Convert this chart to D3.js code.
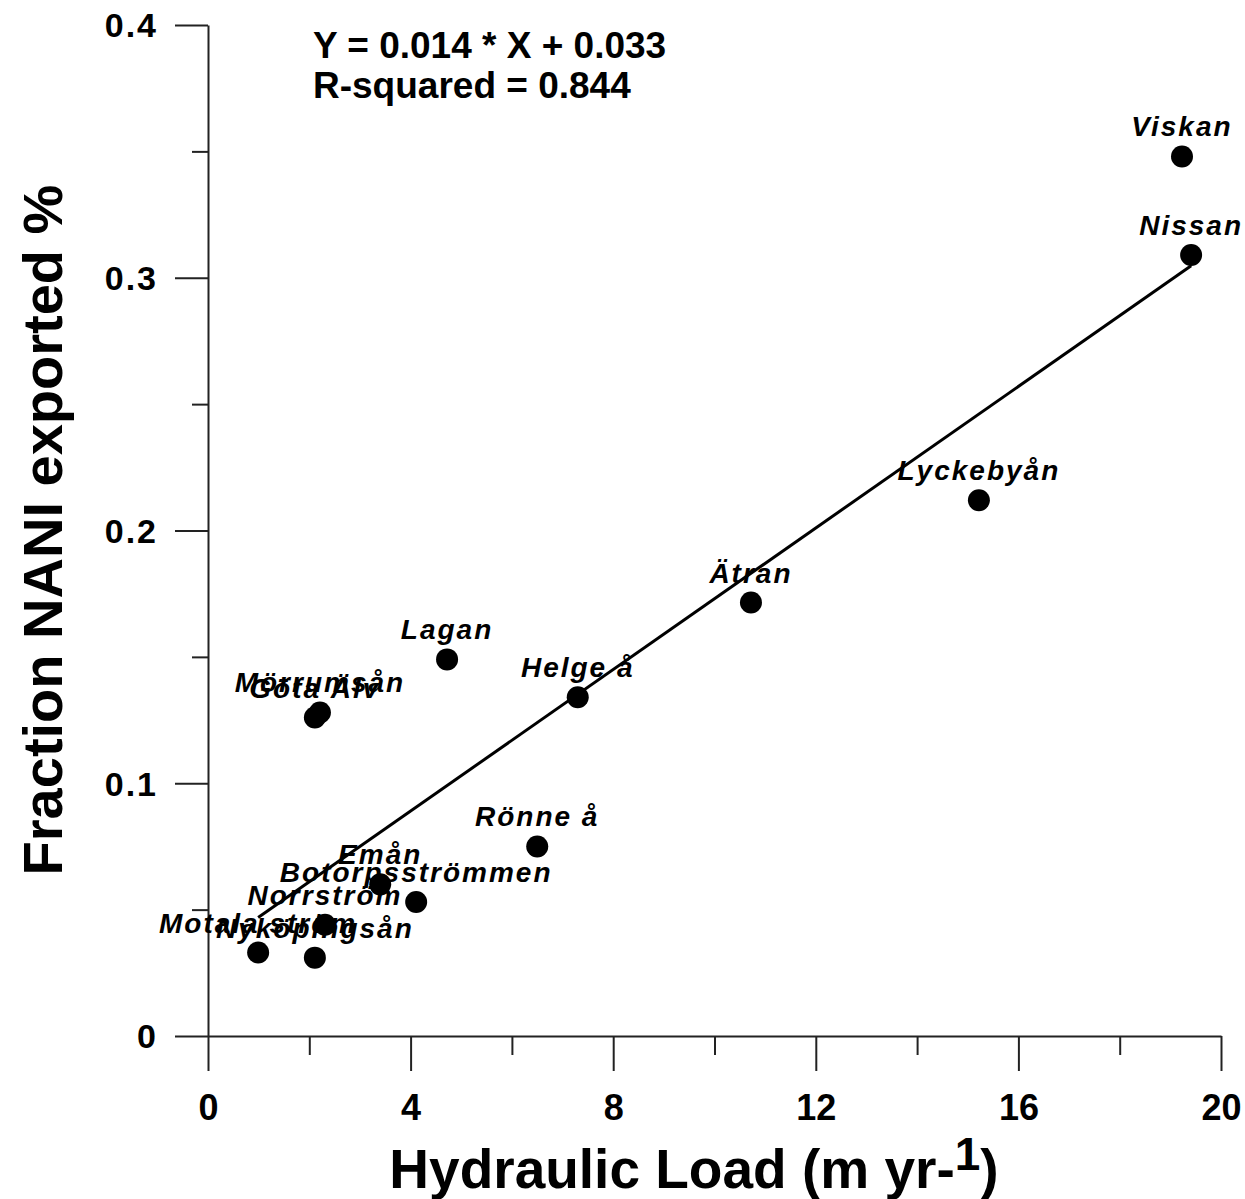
<!DOCTYPE html>
<html>
<head>
<meta charset="utf-8">
<script src="https://cdn.jsdelivr.net/npm/d3@7"></script>
<style>
  body { margin: 0; background: #fff; }
  .tick line { stroke: #222; stroke-width: 2px; }
  .domain { stroke: #222; stroke-width: 2px; }
</style>
</head>
<body>
<div id="vis"></div>
<script>
const FRAME_WIDTH = 1245;
const FRAME_HEIGHT = 1199;
const MARGINS = {left: 208, right: 24, top: 25, bottom: 163};

// data
const rivers = ["Viskan", "Nissan", "Lyckebyån", "Ätran", "Lagan", "Helge å", "Rönne å",
                "Mörrumsån", "Göta Älv", "Emån", "Botorpsströmmen", "Norrström",
                "Motala ström", "Nyköpingsån"];
const hydraulicLoad = [19.23, 19.41, 15.22, 10.72, 4.72, 7.30, 6.50,
                       2.21, 2.11, 3.40, 4.11, 2.31, 0.99, 2.11];
const fractionExported = [0.348, 0.309, 0.212, 0.1715, 0.149, 0.134, 0.075,
                          0.128, 0.126, 0.060, 0.053, 0.044, 0.033, 0.031];
const xTicks = [0, 4, 8, 12, 16, 20];
const xMinor = [2, 6, 10, 14, 18];
const yTicks = [0, 0.1, 0.2, 0.3, 0.4];
const yMinor = [0.05, 0.15, 0.25, 0.35];
const slope = 0.014, intercept = 0.033;

const svg = d3.select("#vis")
  .append("svg")
    .attr("width", FRAME_WIDTH)
    .attr("height", FRAME_HEIGHT);

const X_SCALE = d3.scaleLinear().domain([0, 20]).range([MARGINS.left, MARGINS.left + 1013]);
const Y_SCALE = d3.scaleLinear().domain([0, 0.4]).range([1036, 25]);

// minor ticks
svg.append("g")
    .attr("transform", "translate(0,1036)")
    .call(d3.axisBottom(X_SCALE).tickValues(xMinor).tickSize(19).tickFormat(""))
    .call(g => g.select(".domain").remove());
svg.append("g")
    .attr("transform", "translate(" + MARGINS.left + ",0)")
    .call(d3.axisLeft(Y_SCALE).tickValues(yMinor).tickSize(16).tickFormat(""))
    .call(g => g.select(".domain").remove());

// major axes
svg.append("g")
    .attr("transform", "translate(0,1036)")
    .call(d3.axisBottom(X_SCALE).tickValues(xTicks).tickSize(35).tickSizeOuter(0)
          .tickPadding(23).tickFormat(d3.format("d")))
    .call(g => g.selectAll("text")
          .attr("font-family", "Liberation Sans, Arial, sans-serif")
          .attr("font-weight", "bold")
          .attr("font-size", 36)
          .attr("fill", "#000"));

svg.append("g")
    .attr("transform", "translate(" + MARGINS.left + ",0)")
    .call(d3.axisLeft(Y_SCALE).tickValues(yTicks).tickSize(33).tickSizeOuter(0)
          .tickPadding(17).tickFormat(d => d === 0 ? "0" : d3.format(".1f")(d)))
    .call(g => g.selectAll("text")
          .attr("font-family", "Liberation Sans, Arial, sans-serif")
          .attr("font-weight", "bold")
          .attr("font-size", 34)
          .attr("letter-spacing", 2)
          .attr("dy", "0.35em")
          .attr("fill", "#000"));

// regression line over the data range
const xExt = d3.extent(hydraulicLoad);
svg.append("line")
    .attr("x1", X_SCALE(xExt[0]))
    .attr("y1", Y_SCALE(slope * xExt[0] + intercept))
    .attr("x2", X_SCALE(xExt[1]))
    .attr("y2", Y_SCALE(slope * xExt[1] + intercept))
    .attr("stroke", "#000")
    .attr("stroke-width", 3);

const points = rivers.map((r, i) => ({name: r, x: hydraulicLoad[i], y: fractionExported[i]}));

svg.selectAll(".pt")
  .data(points)
  .enter()
  .append("circle")
    .attr("class", "pt")
    .attr("cx", d => X_SCALE(d.x))
    .attr("cy", d => Y_SCALE(d.y))
    .attr("r", 11)
    .attr("fill", "#000");

svg.selectAll(".lbl")
  .data(points)
  .enter()
  .append("text")
    .attr("class", "lbl")
    .attr("x", d => X_SCALE(d.x))
    .attr("y", d => Y_SCALE(d.y) - 20)
    .attr("text-anchor", "middle")
    .attr("font-family", "Liberation Sans, Arial, sans-serif")
    .attr("font-weight", "bold")
    .attr("font-style", "italic")
    .attr("font-size", 28)
    .attr("letter-spacing", 2)
    .text(d => d.name);

// equation text
svg.append("text")
    .attr("x", 313).attr("y", 58)
    .attr("font-family", "Liberation Sans, Arial, sans-serif")
    .attr("font-weight", "bold")
    .attr("font-size", 37)
    .text("Y = " + slope + " * X + " + intercept);
svg.append("text")
    .attr("x", 313).attr("y", 98)
    .attr("font-family", "Liberation Sans, Arial, sans-serif")
    .attr("font-weight", "bold")
    .attr("font-size", 37)
    .text("R-squared = 0.844");

// axis titles
const xTitle = svg.append("text")
    .attr("x", 694).attr("y", 1188)
    .attr("text-anchor", "middle")
    .attr("font-family", "Liberation Sans, Arial, sans-serif")
    .attr("font-weight", "bold")
    .attr("font-size", 55);
xTitle.append("tspan").text("Hydraulic Load (m yr-");
xTitle.append("tspan").attr("dy", -18).attr("font-size", 46).text("1");
xTitle.append("tspan").attr("dy", 18).text(")");

svg.append("text")
    .attr("transform", "translate(62,530) rotate(-90)")
    .attr("text-anchor", "middle")
    .attr("font-family", "Liberation Sans, Arial, sans-serif")
    .attr("font-weight", "bold")
    .attr("font-size", 56)
    .text("Fraction NANI exported %");
</script>
</body>
</html>
